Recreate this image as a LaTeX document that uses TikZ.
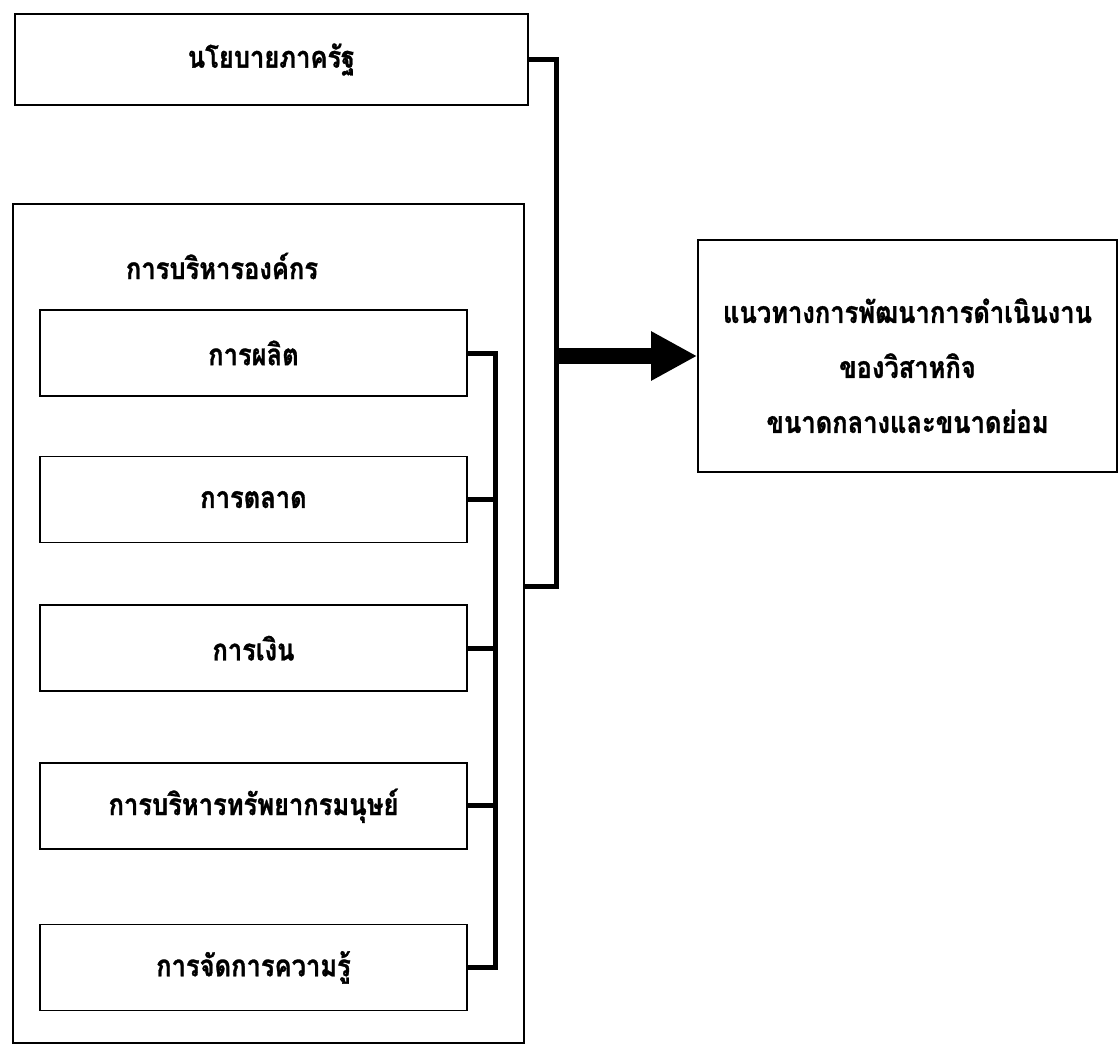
\documentclass[tikz,border=0pt]{standalone}
\usepackage{fontspec}
\newfontfamily\thaifont[Script=Thai,FakeStretch=0.85,FakeBold=1]{Loma}
\usetikzlibrary{positioning,arrows.meta}

\begin{document}
\begin{tikzpicture}[x=1pt,y=-1pt,box/.style={draw,line width=1.6pt,inner sep=0pt,minimum width=427pt,minimum height=86pt,font=\thaifont\bfseries\fontsize{30}{55}\selectfont},bar/.style={line width=5pt},arr/.style={-{Triangle[length=46pt,width=46pt]},line width=16pt}]
\useasboundingbox (0,0) rectangle (1120,1049);
\node[box,minimum width=513pt,minimum height=91pt] (policy) at (271.5,59.5) {นโยบายภาครัฐ};
\node[box,minimum width=511pt,minimum height=839pt] (org) at (268.5,623.5) {};
\node[font=\thaifont\bfseries\fontsize{30}{55}\selectfont] (orgtitle) at (222,266) {การบริหารองค์กร};
\node[box] (prod) at (253.5,353) {การผลิต};
\node[box,below=59pt of prod] (mkt) {การตลาด};
\node[box,below=61pt of mkt] (fin) {การเงิน};
\node[box,below=70pt of fin] (hr) {การบริหารทรัพยากรมนุษย์};
\node[box,below=74pt of hr] (km) {การจัดการความรู้};
\node[box,minimum width=419pt,minimum height=232pt,align=center] (result) at (907.5,356) {\rule{0pt}{44pt}แนวทางการพัฒนาการดำเนินงาน\\ของวิสาหกิจ\\ขนาดกลางและขนาดย่อม};
\coordinate (ibar) at (495,0);
\coordinate (obar) at (556,0);
\coordinate (ojoin) at ([yshift=37pt]org.east);
\draw[bar] (prod.east) -| (ibar |- km.east) -- (km.east);
\foreach \n in {mkt,fin,hr} \draw[bar] (\n.east) -- (\n.east -| ibar);
\draw[bar] (policy.east) -| (obar |- ojoin) -- (ojoin);
\draw[arr] (result.west -| obar) -- (result.west);
\end{tikzpicture}
\end{document}
